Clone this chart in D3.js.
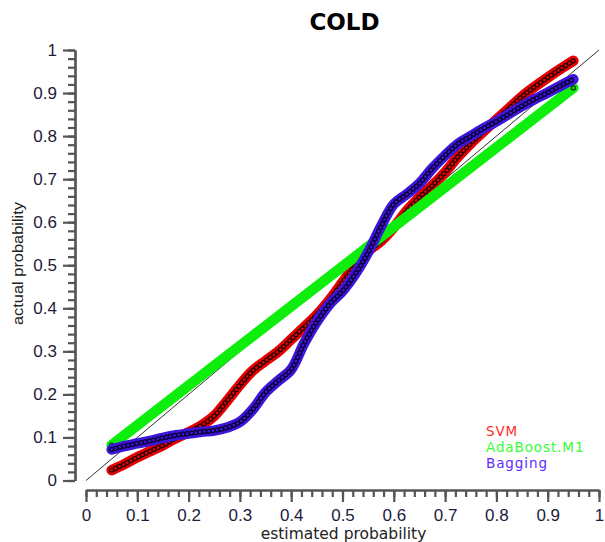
<!DOCTYPE html>
<html>
<head>
<meta charset="utf-8">
<script src="https://cdn.jsdelivr.net/npm/d3@7"></script>
<style>
  body { margin: 0; background: #fff; }
  svg { display: block; }
</style>
</head>
<body>
<div id="chart"></div>
<script>
// estimated probability (x) for the two smooth curves
const probX = [0.05, 0.075, 0.1, 0.125, 0.15, 0.175, 0.2, 0.225, 0.25, 0.275, 0.3, 0.325,
  0.35, 0.375, 0.4, 0.425, 0.45, 0.475, 0.5, 0.525, 0.55, 0.575, 0.6, 0.625, 0.65, 0.675,
  0.7, 0.725, 0.75, 0.775, 0.8, 0.825, 0.85, 0.875, 0.9, 0.925, 0.95]

// actual probability
const svmY = [0.024, 0.038, 0.054, 0.068, 0.082, 0.098, 0.112, 0.128, 0.15, 0.185, 0.222, 0.255,
  0.278, 0.3, 0.328, 0.356, 0.385, 0.42, 0.46, 0.5, 0.533, 0.556, 0.588, 0.626, 0.658, 0.685,
  0.716, 0.752, 0.783, 0.811, 0.838, 0.865, 0.892, 0.915, 0.936, 0.956, 0.975]

const baggingY = [0.072, 0.08, 0.086, 0.092, 0.099, 0.105, 0.109, 0.113, 0.116, 0.123, 0.136, 0.165,
  0.205, 0.232, 0.258, 0.318, 0.369, 0.41, 0.44, 0.48, 0.53, 0.59, 0.642, 0.665, 0.69, 0.725,
  0.755, 0.782, 0.8, 0.818, 0.834, 0.852, 0.87, 0.886, 0.901, 0.917, 0.932]

// AdaBoost.M1 is a straight line with two points
const adaX = [0.05, 0.95]
const adaY = [0.082, 0.912]

const majorTicks = [0, 0.1, 0.2, 0.3, 0.4, 0.5, 0.6, 0.7, 0.8, 0.9, 1]
const legendNames = ["SVM", "AdaBoost.M1", "Bagging"]
const legendColors = ["#ff2a2a", "#33ff33", "#5b2cff"]

const width = 605, height = 542

const svg = d3.select('#chart')
    .append('svg')
    .attr("width", width)
    .attr("height", height)

const x = d3.scaleLinear().domain([0, 1]).range([86, 599])
const y = d3.scaleLinear().domain([0, 1]).range([480.5, 50])

// soft edges on the thick bands
const defs = svg.append("defs")
defs.append("filter").attr("id", "soft")
    .append("feGaussianBlur").attr("stdDeviation", 0.7)

// title
svg.append("text")
    .attr("x", 344.5)
    .attr("y", 30)
    .attr("text-anchor", "middle")
    .style("font-family", "'DejaVu Sans', Verdana, sans-serif")
    .style("font-weight", "bold")
    .style("font-size", "23px")
    .attr("fill", "#000")
    .text("COLD")

// axes
const minorTicks = d3.range(0, 51).map(i => i / 50)

function styleAxis(g) {
    g.selectAll("path, line").attr("stroke", "#555").attr("stroke-width", 2.2)
    g.selectAll("text")
        .style("font-family", "'Liberation Sans', Arial, sans-serif")
        .style("font-size", "17px")
        .attr("fill", "#1c1c3a")
}

const yMinor = svg.append("g").attr("transform", "translate(75,0)")
    .call(d3.axisLeft(y).tickValues(minorTicks).tickSize(7).tickSizeOuter(0).tickFormat(""))
const yMajor = svg.append("g").attr("transform", "translate(75,0)")
    .call(d3.axisLeft(y).tickValues(majorTicks).tickSize(12).tickSizeOuter(0).tickPadding(6)
        .tickFormat(d => +d.toFixed(1)))
const xMinor = svg.append("g").attr("transform", "translate(0,490)")
    .call(d3.axisBottom(x).tickValues(minorTicks).tickSize(7).tickSizeOuter(0).tickFormat(""))
const xMajor = svg.append("g").attr("transform", "translate(0,490)")
    .call(d3.axisBottom(x).tickValues(majorTicks).tickSize(12).tickSizeOuter(0).tickPadding(7)
        .tickFormat(d => +d.toFixed(1)))
;[yMinor, yMajor, xMinor, xMajor].forEach(styleAxis)

// axis titles
svg.append("text")
    .attr("x", 343.5)
    .attr("y", 539)
    .attr("text-anchor", "middle")
    .style("font-family", "'DejaVu Sans', Verdana, sans-serif")
    .style("font-size", "15.5px")
    .attr("fill", "#222")
    .text("estimated probability")

svg.append("text")
    .attr("transform", "translate(22.5,263.5) rotate(-90)")
    .attr("text-anchor", "middle")
    .style("font-family", "'Liberation Sans', Arial, sans-serif")
    .style("font-size", "15px")
    .attr("textLength", 123)
    .attr("lengthAdjust", "spacingAndGlyphs")
    .attr("fill", "#222")
    .text("actual probability")

// diagonal reference
svg.append("line")
    .attr("x1", x(0)).attr("y1", y(0))
    .attr("x2", x(1)).attr("y2", y(1))
    .attr("stroke", "#333")
    .attr("stroke-width", 1)

const line = d3.line()
    .x(d => x(d[0]))
    .y(d => y(d[1]))
    .curve(d3.curveCatmullRom.alpha(0.5))

function drawSeries(pts, color, ringColor, dotted) {
    const g = svg.append("g")
    g.append("path")
        .attr("d", line(pts))
        .attr("fill", "none")
        .attr("stroke", color)
        .attr("stroke-width", 10.5)
        .attr("stroke-linecap", "round")
        .attr("stroke-linejoin", "round")
        .attr("filter", "url(#soft)")
    if (dotted) {
        // markers as rings along the curve
        g.append("path")
            .attr("d", line(pts))
            .attr("fill", "none")
            .attr("stroke", ringColor)
            .attr("stroke-width", 5.4)
            .attr("stroke-linecap", "round")
            .attr("stroke-dasharray", "0 4.3")
        g.append("path")
            .attr("d", line(pts))
            .attr("fill", "none")
            .attr("stroke", color)
            .attr("stroke-width", 2.8)
            .attr("stroke-linecap", "round")
            .attr("stroke-dasharray", "0 4.3")
    } else {
        g.selectAll("circle")
            .data(pts)
            .join("circle")
            .attr("cx", d => x(d[0]))
            .attr("cy", d => y(d[1]))
            .attr("r", 2)
            .attr("fill", color)
            .attr("stroke", ringColor)
            .attr("stroke-width", 1.3)
    }
}

const svmPts = probX.map((v, i) => [v, svmY[i]])
const bagPts = probX.map((v, i) => [v, baggingY[i]])
const adaPts = adaX.map((v, i) => [v, adaY[i]])

drawSeries(svmPts, "#e60000", "#2a0000", true)
drawSeries(adaPts, "#11ee11", "#063306", false)
drawSeries(bagPts, "#3d14dc", "#0c0030", true)

// legend
svg.append("g")
    .selectAll("text")
    .data(legendNames)
    .join("text")
    .attr("x", 486)
    .attr("y", (d, i) => 435.5 + i * 16)
    .style("font-family", "'DejaVu Sans', Verdana, sans-serif")
    .style("font-size", "13.5px")
    .style("letter-spacing", "0.9px")
    .attr("fill", (d, i) => legendColors[i])
    .text(d => d)
</script>
</body>
</html>
